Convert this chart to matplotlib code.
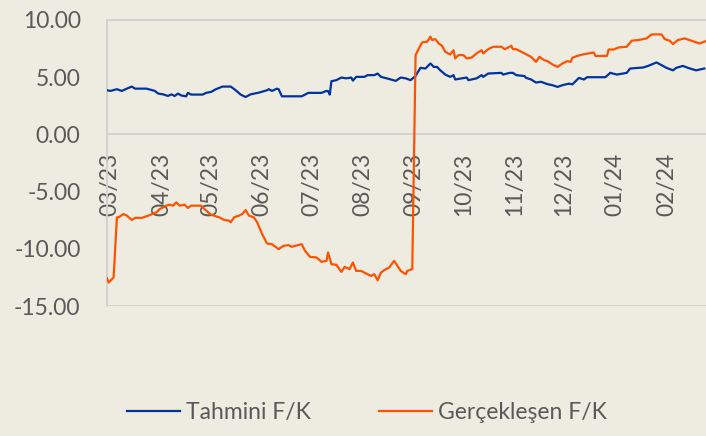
import matplotlib
matplotlib.use("Agg")
import matplotlib.pyplot as plt
import matplotlib.dates as mdates
import pandas as pd
from matplotlib.ticker import FuncFormatter, FixedLocator

# ---- data ----
tahmini_dates = [
    "2023-02-27", "2023-03-01", "2023-03-05", "2023-03-08", "2023-03-11", "2023-03-14",
    "2023-03-16", "2023-03-23", "2023-03-28", "2023-03-30", "2023-04-02", "2023-04-05",
    "2023-04-07", "2023-04-09", "2023-04-11", "2023-04-13", "2023-04-16", "2023-04-17",
    "2023-04-19", "2023-04-26", "2023-04-28", "2023-05-01", "2023-05-04", "2023-05-08",
    "2023-05-13", "2023-05-16", "2023-05-19", "2023-05-22", "2023-05-25", "2023-05-30",
    "2023-06-04", "2023-06-05", "2023-06-07", "2023-06-10", "2023-06-11", "2023-06-13",
    "2023-06-25", "2023-06-29", "2023-07-07", "2023-07-10", "2023-07-11", "2023-07-12",
    "2023-07-13", "2023-07-16", "2023-07-19", "2023-07-22", "2023-07-25", "2023-07-26",
    "2023-07-28", "2023-08-02", "2023-08-04", "2023-08-08", "2023-08-10", "2023-08-12",
    "2023-08-16", "2023-08-21", "2023-08-24", "2023-08-27", "2023-08-30", "2023-09-02",
    "2023-09-05", "2023-09-08", "2023-09-11", "2023-09-13", "2023-09-15", "2023-09-17",
    "2023-09-20", "2023-09-23", "2023-09-25", "2023-09-26", "2023-09-30", "2023-10-03",
    "2023-10-04", "2023-10-09", "2023-10-12", "2023-10-13", "2023-10-16", "2023-10-24",
    "2023-10-25", "2023-10-29", "2023-10-31", "2023-11-02", "2023-11-07", "2023-11-08",
    "2023-11-11", "2023-11-14", "2023-11-17", "2023-11-21", "2023-11-24", "2023-11-27",
    "2023-11-30", "2023-12-04", "2023-12-06", "2023-12-10", "2023-12-13", "2023-12-15",
    "2023-12-26", "2023-12-29", "2024-01-02", "2024-01-08", "2024-01-10", "2024-01-18",
    "2024-01-21", "2024-01-26", "2024-01-29", "2024-02-01", "2024-02-05", "2024-02-07",
    "2024-02-11", "2024-02-14", "2024-02-19", "2024-02-24",
]
tahmini_values = [
    3.86, 3.80, 3.95, 3.80, 4.00, 4.18,
    4.00, 4.00, 3.80, 3.57, 3.50, 3.36,
    3.50, 3.36, 3.57, 3.40, 3.33, 3.63,
    3.48, 3.48, 3.63, 3.71, 3.95, 4.18,
    4.18, 3.86, 3.48, 3.27, 3.50, 3.65,
    3.86, 3.95, 3.80, 4.00, 3.95, 3.33,
    3.33, 3.63, 3.63, 3.80, 3.78, 3.48,
    4.65, 4.74, 4.97, 4.90, 4.97, 4.70,
    5.03, 5.03, 5.18, 5.18, 5.32, 5.03,
    4.88, 4.68, 4.97, 4.90, 4.74, 5.12,
    5.82, 5.76, 6.20, 5.90, 5.90, 5.60,
    5.23, 5.03, 5.18, 4.80, 4.90, 4.97,
    4.74, 4.90, 5.18, 5.03, 5.32, 5.38,
    5.23, 5.38, 5.38, 5.18, 5.10, 4.94,
    4.80, 4.53, 4.60, 4.39, 4.30, 4.15,
    4.30, 4.44, 4.37, 4.94, 4.80, 5.00,
    5.00, 5.38, 5.23, 5.38, 5.76, 5.85,
    5.99, 6.29, 6.06, 5.82, 5.60, 5.82,
    5.99, 5.82, 5.60, 5.76,
]

gercek_dates = [
    "2023-02-27", "2023-02-28", "2023-03-03", "2023-03-05", "2023-03-06", "2023-03-09",
    "2023-03-11", "2023-03-14", "2023-03-16", "2023-03-20", "2023-03-24", "2023-03-29",
    "2023-03-31", "2023-04-04", "2023-04-06", "2023-04-08", "2023-04-10", "2023-04-12",
    "2023-04-15", "2023-04-17", "2023-04-19", "2023-04-25", "2023-04-27", "2023-05-01",
    "2023-05-06", "2023-05-09", "2023-05-12", "2023-05-13", "2023-05-15", "2023-05-18",
    "2023-05-20", "2023-05-22", "2023-05-24", "2023-05-27", "2023-05-29", "2023-06-01",
    "2023-06-04", "2023-06-07", "2023-06-11", "2023-06-14", "2023-06-17", "2023-06-19",
    "2023-06-21", "2023-06-25", "2023-06-27", "2023-06-30", "2023-07-04", "2023-07-07",
    "2023-07-10", "2023-07-11", "2023-07-13", "2023-07-16", "2023-07-19", "2023-07-21",
    "2023-07-24", "2023-07-26", "2023-07-28", "2023-07-31", "2023-08-03", "2023-08-06",
    "2023-08-08", "2023-08-10", "2023-08-12", "2023-08-15", "2023-08-17", "2023-08-20",
    "2023-08-22", "2023-08-24", "2023-08-27", "2023-08-28", "2023-08-31", "2023-09-02",
    "2023-09-04", "2023-09-06", "2023-09-09", "2023-09-11", "2023-09-12", "2023-09-14",
    "2023-09-16", "2023-09-18", "2023-09-20", "2023-09-23", "2023-09-25", "2023-09-26",
    "2023-09-28", "2023-10-01", "2023-10-03", "2023-10-06", "2023-10-09", "2023-10-12",
    "2023-10-13", "2023-10-16", "2023-10-19", "2023-10-24", "2023-10-26", "2023-10-29",
    "2023-10-30", "2023-10-31", "2023-11-02", "2023-11-07", "2023-11-11", "2023-11-14",
    "2023-11-16", "2023-11-19", "2023-11-21", "2023-11-24", "2023-11-27", "2023-11-30",
    "2023-12-03", "2023-12-05", "2023-12-06", "2023-12-09", "2023-12-12", "2023-12-16",
    "2023-12-19", "2023-12-20", "2023-12-27", "2023-12-28", "2023-12-31", "2024-01-03",
    "2024-01-08", "2024-01-11", "2024-01-15", "2024-01-20", "2024-01-23", "2024-01-29",
    "2024-01-31", "2024-02-03", "2024-02-05", "2024-02-08", "2024-02-12", "2024-02-15",
    "2024-02-18", "2024-02-21", "2024-02-25",
]
gercek_values = [
    -12.57, -12.95, -12.50, -7.25, -7.25, -6.96,
    -7.10, -7.48, -7.30, -7.30, -7.10, -6.81,
    -6.52, -6.23, -6.14, -6.23, -5.94, -6.23,
    -6.14, -6.43, -6.23, -6.23, -6.52, -7.02,
    -7.25, -7.48, -7.54, -7.68, -7.25, -7.10,
    -6.96, -6.61, -7.10, -7.25, -7.68, -8.71,
    -9.54, -9.60, -10.03, -9.74, -9.68, -9.83,
    -9.74, -9.60, -10.18, -10.70, -10.76, -11.14,
    -11.05, -10.32, -11.35, -11.40, -12.02, -11.58,
    -11.78, -11.20, -11.93, -11.93, -12.16, -12.37,
    -12.22, -12.75, -12.08, -11.78, -11.64, -11.05,
    -11.49, -11.93, -12.22, -11.93, -11.78, 6.93,
    7.51, 8.04, 8.10, 8.54, 8.25, 8.33,
    7.95, 7.75, 7.22, 6.98, 7.36, 6.64,
    6.93, 6.93, 6.64, 6.72, 7.08, 7.36,
    7.08, 7.45, 7.66, 7.66, 7.45, 7.66,
    7.75, 7.45, 7.45, 7.08, 6.78, 6.34,
    6.78, 6.49, 6.40, 6.11, 5.90, 6.20,
    6.40, 6.34, 6.70, 6.86, 6.98, 7.08,
    7.16, 6.86, 6.86, 7.42, 7.42, 7.60,
    7.66, 8.19, 8.25, 8.39, 8.74, 8.74,
    8.33, 8.19, 7.90, 8.25, 8.39, 8.25,
    8.10, 7.95, 8.16,
]

series_labels = ["Tahmini F/K", "Gerçekleşen F/K"]
y_ticks = [10, 5, 0, -5, -10, -15]

# ---- styling ----
BG = "#EEECE1"
TXT = "#595959"
GRID = "#D0D0D0"
BLUE = "#0033A0"
ORANGE = "#FF5200"
FS = 16.5

plt.rcParams["font.family"] = ["Lato", "DejaVu Sans"]

fig = plt.figure(figsize=(7.06, 4.36), dpi=100, facecolor=BG)
ax = fig.add_axes([107 / 706, 1 - 306 / 436, 1 - 107 / 706, (306 - 20) / 436])
ax.set_facecolor(BG)

td = pd.to_datetime(tahmini_dates)
gd = pd.to_datetime(gercek_dates)
ax.plot(td, tahmini_values, color=BLUE, lw=1.6, label=series_labels[0], zorder=3)
ax.plot(gd, gercek_values, color=ORANGE, lw=1.6, label=series_labels[1], zorder=3)

ax.set_ylim(-15, 10)
ax.set_xlim(pd.Timestamp("2023-02-27"), pd.Timestamp("2024-02-25"))

ax.yaxis.set_major_locator(FixedLocator(y_ticks))
ax.yaxis.set_major_formatter(FuncFormatter(lambda v, p: f"{v:.2f}"))
ax.tick_params(axis="y", length=0, pad=19, labelsize=FS, labelcolor=TXT)

ax.xaxis.set_major_locator(mdates.MonthLocator())
ax.xaxis.set_major_formatter(mdates.DateFormatter("%m/%y"))
ax.spines["bottom"].set_position(("data", 0))
ax.tick_params(axis="x", length=0, pad=13, labelsize=FS, labelcolor=TXT, labelrotation=90)

for s in ["top", "bottom", "left"]:
    ax.spines[s].set_color(GRID)
    ax.spines[s].set_linewidth(1.3)
ax.spines["right"].set_visible(False)
ax.axhline(-15, color=GRID, lw=2.0, zorder=1)

leg = fig.legend(loc="center", bbox_to_anchor=(0.52, 0.053), ncol=2, frameon=False,
                 fontsize=FS, handlelength=2.3, handletextpad=0.25, columnspacing=3.0)
for t in leg.get_texts():
    t.set_color(TXT)

fig.savefig("out.png", dpi=100, facecolor=BG)
